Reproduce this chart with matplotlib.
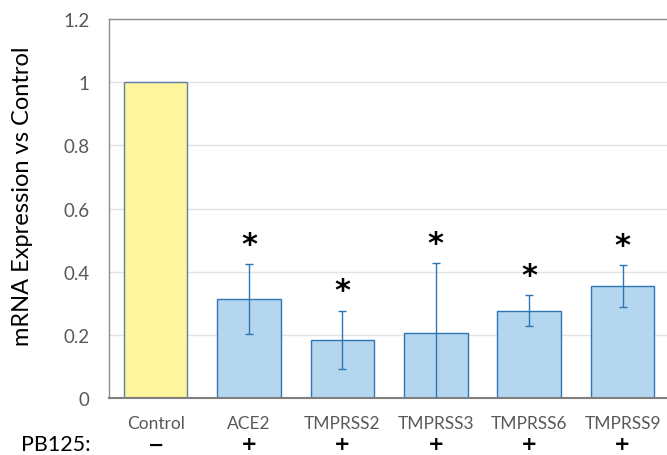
import matplotlib.pyplot as plt
import matplotlib.transforms as mtransforms

plt.rcParams['font.family'] = ['Lato', 'DejaVu Sans']

# data
genes = ['Control', 'ACE2', 'TMPRSS2', 'TMPRSS3', 'TMPRSS6', 'TMPRSS9']
expr = [1.0, 0.313, 0.184, 0.205, 0.277, 0.355]
err = [0, 0.110, 0.093, 0.221, 0.049, 0.066]
signif = [False, True, True, True, True, True]
pb125 = ['\u2212', '+', '+', '+', '+', '+']

fig = plt.figure(figsize=(6.67, 4.56), dpi=100)
ax = fig.add_axes([0.1634, 0.125, 0.84, 0.831])

x = list(range(len(genes)))
face = ['#FFF59D'] + ['#B5D6EF'] * (len(genes) - 1)
edge = ['#5B7FA8'] + ['#2E75B6'] * (len(genes) - 1)
ax.bar(x, expr, width=0.68, color=face, edgecolor=edge, linewidth=1.0, zorder=2)

# error bars only for treated samples
ax.errorbar(x[1:], expr[1:], yerr=err[1:], fmt='none', ecolor='#2E75B6',
            elinewidth=1.0, capsize=3, capthick=1.0, zorder=3)

for i in x:
    if signif[i]:
        ax.annotate('*', (i, expr[i] + err[i]), xytext=(0, 4),
                    textcoords='offset points', ha='center', va='bottom',
                    fontsize=22, fontweight='bold', color='black',
                    family='DejaVu Sans')

ax.set_xlim(-0.5, 5.5)
ax.set_ylim(0, 1.2)
ax.set_yticks([0, 0.2, 0.4, 0.6, 0.8, 1.0, 1.2])
ax.set_yticklabels(['0', '0.2', '0.4', '0.6', '0.8', '1', '1.2'])
ax.yaxis.grid(True, color='#E3E3E3', linewidth=1.0, zorder=0)
ax.set_axisbelow(True)

ax.set_xticks(x)
ax.set_xticklabels(genes)
ax.tick_params(axis='x', length=0, pad=12, labelsize=12.5, labelcolor='#595959')
ax.tick_params(axis='y', length=0, pad=14, labelsize=13.5, labelcolor='#595959')

for side in ['left', 'top']:
    ax.spines[side].set_color('#8C8C8C')
    ax.spines[side].set_linewidth(1.0)
ax.spines['bottom'].set_color('#7F7F7F')
ax.spines['bottom'].set_linewidth(1.5)
ax.spines['right'].set_visible(False)

fig.text(23 / 667, 1 - 196 / 456, 'mRNA Expression vs Control', rotation=90,
         ha='center', va='center', fontsize=17, color='black')

# PB125 row under the tick labels
trans = mtransforms.blended_transform_factory(ax.transData, fig.transFigure)
row_y = 1 - 445 / 456
for i, s in zip(x, pb125):
    ax.text(i, row_y, s, transform=trans, ha='center', va='center',
            fontsize=14, fontweight='bold', color='black', family='DejaVu Sans')
fig.text(21 / 667, row_y, 'PB125:', ha='left', va='center', fontsize=15.5,
         color='black')

fig.savefig('out.png', dpi=100)
